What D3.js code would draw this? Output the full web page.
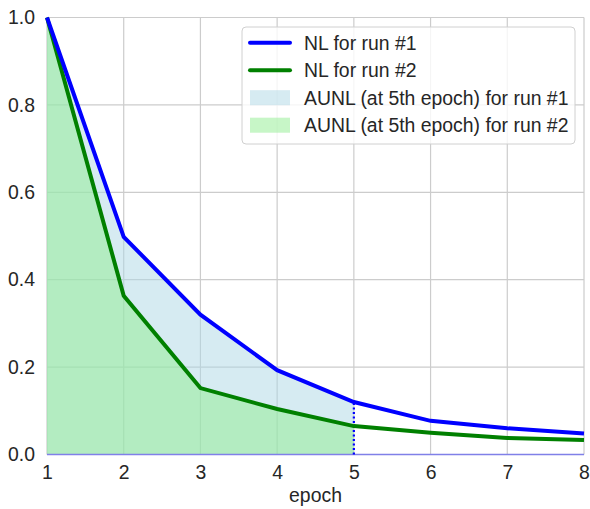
<!DOCTYPE html>
<html lang="en">
  <head>
    <meta charset="UTF-8" />
    <title>NL curves</title>
    <style>
      body { margin: 0; background: #fff; }
      text { font-family: "Liberation Sans", Arial, sans-serif; fill: #262626; }
    </style>
  </head>
  <body>
    <svg id="chart" width="590" height="509"></svg>

    <script src="https://d3js.org/d3.v7.min.js"></script>
    <script>
      const epochs = [1, 2, 3, 4, 5, 6, 7, 8];
      const run1 = [1.0, 0.498, 0.32, 0.193, 0.12, 0.077, 0.06, 0.048];
      const run2 = [1.0, 0.363, 0.152, 0.104, 0.065, 0.05, 0.038, 0.033];
      const yTicks = [0, 0.2, 0.4, 0.6, 0.8, 1.0];
      const aunlEpoch = 5;
      const legendLabels = [
        "NL for run #1",
        "NL for run #2",
        "AUNL (at 5th epoch) for run #1",
        "AUNL (at 5th epoch) for run #2"
      ];

      const svg = d3.select("#chart");
      const x = d3.scaleLinear().domain([1, 8]).range([47, 584]);
      const y = d3.scaleLinear().domain([0, 1]).range([454.5, 17.5]);
      const fs = 19.4;

      const pts1 = epochs.map((e, i) => ({ e, v: run1[i] }));
      const pts2 = epochs.map((e, i) => ({ e, v: run2[i] }));

      // grid
      svg.append("g")
        .selectAll("line.v")
        .data(epochs)
        .enter()
        .append("line")
        .attr("x1", d => x(d)).attr("x2", d => x(d))
        .attr("y1", y(0)).attr("y2", y(1))
        .attr("stroke", "#cccccc").attr("stroke-width", 1.2);
      svg.append("g")
        .selectAll("line.h")
        .data(yTicks)
        .enter()
        .append("line")
        .attr("x1", x(1)).attr("x2", x(8))
        .attr("y1", d => y(d)).attr("y2", d => y(d))
        .attr("stroke", "#cccccc").attr("stroke-width", 1.2);

      // AUNL areas up to 5th epoch
      const area = d3.area().x(d => x(d.e)).y0(y(0)).y1(d => y(d.v));
      svg.append("path")
        .datum(pts1.filter(d => d.e <= aunlEpoch))
        .attr("d", area)
        .attr("fill", "lightblue").attr("fill-opacity", 0.5);
      svg.append("path")
        .datum(pts2.filter(d => d.e <= aunlEpoch))
        .attr("d", area)
        .attr("fill", "lightgreen").attr("fill-opacity", 0.5);

      // baseline
      svg.append("line")
        .attr("x1", x(1)).attr("x2", x(8))
        .attr("y1", y(0)).attr("y2", y(0))
        .attr("stroke", "#8080e8").attr("stroke-width", 1.3);

      // dotted marker at 5th epoch
      svg.append("line")
        .attr("x1", x(aunlEpoch)).attr("x2", x(aunlEpoch))
        .attr("y1", y(0)).attr("y2", y(run1[aunlEpoch - 1]))
        .attr("stroke", "blue").attr("stroke-width", 2.2)
        .attr("stroke-dasharray", "2,2.5");

      // lines
      const line = d3.line().x(d => x(d.e)).y(d => y(d.v));
      svg.append("path").datum(pts2).attr("d", line)
        .attr("fill", "none").attr("stroke", "green").attr("stroke-width", 4);
      svg.append("path").datum(pts1).attr("d", line)
        .attr("fill", "none").attr("stroke", "blue").attr("stroke-width", 4);

      // axes
      const xAxis = svg.append("g")
        .attr("transform", `translate(0,${y(0)})`)
        .call(d3.axisBottom(x).tickValues(epochs).tickFormat(d3.format("d")).tickSize(0).tickPadding(11));
      const yAxis = svg.append("g")
        .attr("transform", `translate(${x(1)},0)`)
        .call(d3.axisLeft(y).tickValues(yTicks).tickFormat(d3.format(".1f")).tickSize(0).tickPadding(12));
      [xAxis, yAxis].forEach(g => {
        g.select(".domain").remove();
        g.selectAll("text").attr("font-size", fs).attr("fill", "#262626")
          .attr("font-family", "Liberation Sans, Arial, sans-serif");
      });

      svg.append("text")
        .attr("x", (x(1) + x(8)) / 2).attr("y", 502)
        .attr("text-anchor", "middle").attr("font-size", fs)
        .text("epoch");

      // legend
      const lg = svg.append("g").attr("transform", "translate(242,27)");
      lg.append("rect")
        .attr("width", 333).attr("height", 117).attr("rx", 4)
        .attr("fill", "white").attr("fill-opacity", 0.8)
        .attr("stroke", "#d0d0d0").attr("stroke-width", 1);
      const rows = lg.selectAll("g.row")
        .data(legendLabels)
        .enter()
        .append("g")
        .attr("transform", (d, i) => `translate(0,${15.7 + i * 27.5})`);
      rows.each(function (d, i) {
        const r = d3.select(this);
        if (i < 2) {
          r.append("line")
            .attr("x1", 8).attr("x2", 48).attr("y1", 0).attr("y2", 0)
            .attr("stroke", i === 0 ? "blue" : "green")
            .attr("stroke-width", 4).attr("stroke-linecap", "round");
        } else {
          r.append("rect")
            .attr("x", 8).attr("y", -7.5).attr("width", 40).attr("height", 15)
            .attr("fill", i === 2 ? "lightblue" : "lightgreen").attr("fill-opacity", 0.5);
        }
        r.append("text")
          .attr("x", 62).attr("y", 7)
          .attr("font-size", fs)
          .text(d);
      });
    </script>
  </body>
</html>
